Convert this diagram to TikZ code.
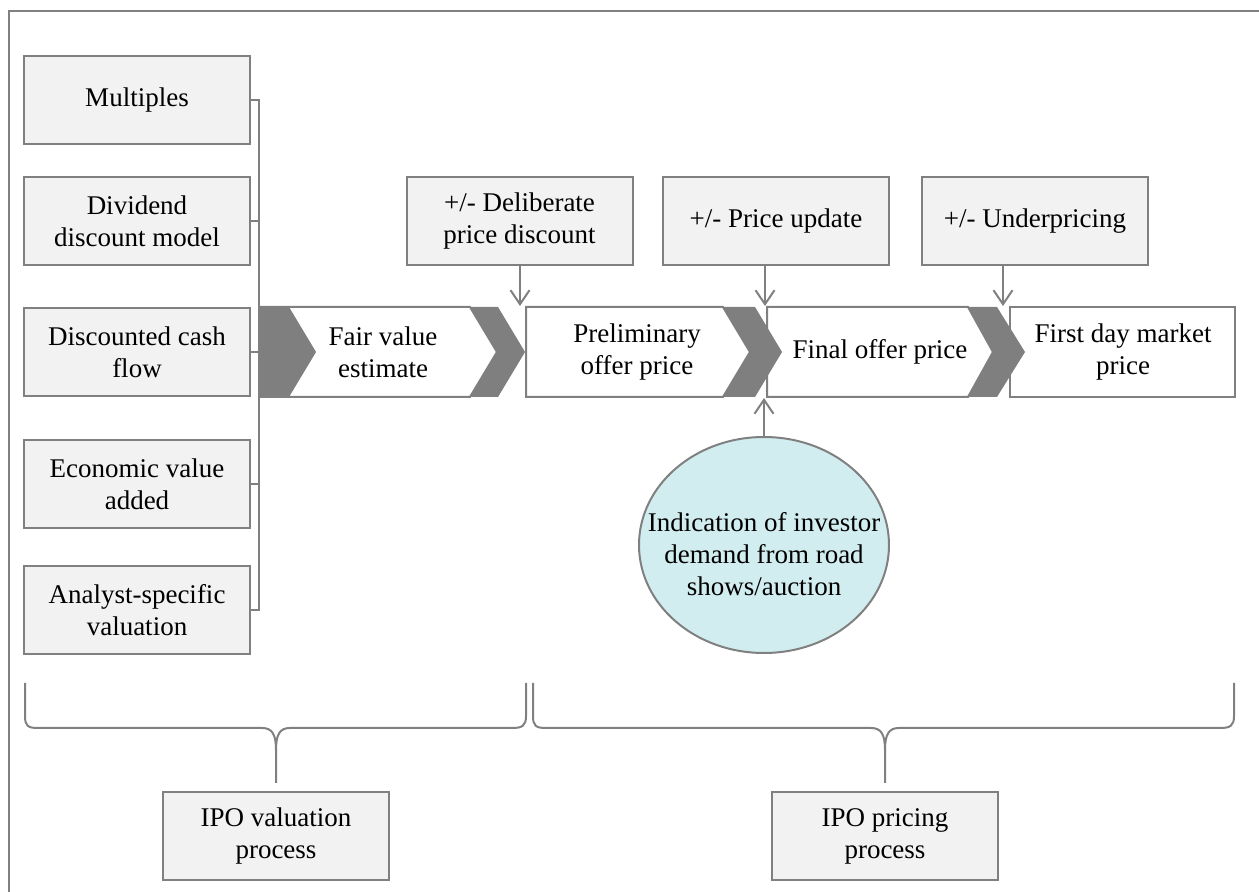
\documentclass[tikz,border=0pt]{standalone}
\usepackage{fontspec}
\setmainfont{Liberation Serif}
\usetikzlibrary{arrows.meta,shapes.geometric}
\definecolor{lineg}{RGB}{128,128,128}
\definecolor{boxf}{RGB}{242,242,242}
\definecolor{darkg}{RGB}{127,127,127}
\definecolor{cyanf}{RGB}{210,237,240}
\begin{document}
\begin{tikzpicture}[x=0.5pt,y=-0.5pt,
  font=\fontsize{13.5}{16}\selectfont,
  gbox/.style={draw=lineg,line width=1pt,fill=boxf,minimum width=113pt,minimum height=44pt,inner sep=0pt,align=center},
  ln/.style={draw=lineg,line width=1pt},
  arr/.style={ln,-{Straight Barb[length=7pt,width=9.5pt,line width=1pt]}},
  chev/.style={fill=darkg},
  wbox/.style={draw=lineg,line width=1pt,fill=white},
  lbl/.style={align=center,inner sep=0pt}
]
\useasboundingbox (0,0) rectangle (1259,892);
\draw[ln] (9,892) -- (9,11) -- (1259,11);

% valuation methods
\node[gbox] (m1) at (137,100) {Multiples};
\node[gbox] (m2) at (137,221.5) {Dividend\\discount model};
\node[gbox] (m3) at (137,352) {Discounted cash\\flow};
\node[gbox] (m4) at (137,484) {Economic value\\added};
\node[gbox] (m5) at (137,610) {Analyst-specific\\valuation};
\coordinate (bt) at (259,100);
\coordinate (bb) at (259,610);
\draw[ln] (m1.east) -- (bt) -- (bb) -- (m5.east);
\foreach \n in {m2,m3,m4} \draw[ln] (\n.east) -- (\n.east -| bt);

% chevron row
\draw[wbox] (259,307) -- (470,307) -- (497,352) -- (470,397) -- (259,397) -- cycle;
\draw[wbox] (526,307) -- (723,307) -- (750,352) -- (723,397) -- (526,397) -- cycle;
\draw[wbox] (767,307) -- (968,307) -- (993,352) -- (968,397) -- (767,397) -- cycle;
\draw[wbox] (1010,307) rectangle (1235,397);
\fill[chev] (259,307) -- (289,307) -- (316,352) -- (289,397) -- (259,397) -- cycle;
\fill[chev] (470,307) -- (498,307) -- (525,352) -- (498,397) -- (470,397) -- (497,352) -- cycle;
\fill[chev] (723,307) -- (755,307) -- (782,352) -- (755,397) -- (723,397) -- (750,352) -- cycle;
\fill[chev] (968,307) -- (997,307) -- (1025,352) -- (997,397) -- (968,397) -- (993,352) -- cycle;
\node[lbl] (fv) at (383,352) {Fair value\\estimate};
\node[lbl] (pop) at (637,352) {Preliminary\\offer price};
\node[lbl] (fop) at (880,352) {Final offer price};
\node[lbl] (fdp) at (1123,352) {First day market\\price};

% adjustments
\node[gbox] (dpd) at (519.5,221.5) {+/- Deliberate\\price discount};
\node[gbox] (pup) at (776,221.5) {+/- Price update};
\node[gbox] (upr) at (1035,221.5) {+/- Underpricing};
\coordinate (a1) at (520,306);
\coordinate (a2) at (765,306);
\coordinate (a3) at (1003,306);
\draw[arr] (dpd.south -| a1) -- (a1);
\draw[arr] (pup.south -| a2) -- (a2);
\draw[arr] (upr.south -| a3) -- (a3);

% investor demand
\node[ellipse,draw=lineg,line width=1pt,fill=cyanf,minimum width=125pt,minimum height=108pt,inner sep=0pt] (dem) at (764,545)
  {\smash{\makebox[0pt]{\raisebox{-9.5pt}{\begin{tabular}{@{}c@{}}Indication of investor\\demand from road\\shows/auction\end{tabular}}}}};
\coordinate (a4) at (764,398);
\draw[arr] (dem.north) -- (a4);

% braces
\draw[ln] (25,683) -- (25,716) .. controls (25,726) and (28,728) .. (38,728) -- (262,728) .. controls (272,728) and (276,734) .. (276,750) -- (276,783);
\draw[ln] (276,750) .. controls (276,734) and (280,728) .. (290,728) -- (512,728) .. controls (522,728) and (526,726) .. (526,716) -- (526,683);
\draw[ln] (533,683) -- (533,716) .. controls (533,726) and (536,728) .. (546,728) -- (871,728) .. controls (881,728) and (885,734) .. (885,750) -- (885,783);
\draw[ln] (885,750) .. controls (885,734) and (889,728) .. (899,728) -- (1220,728) .. controls (1230,728) and (1234,726) .. (1234,716) -- (1234,683);

\node[gbox] (ivp) at (276,836) {IPO valuation\\process};
\node[gbox] (ipp) at (885,836) {IPO pricing\\process};
\end{tikzpicture}
\end{document}
